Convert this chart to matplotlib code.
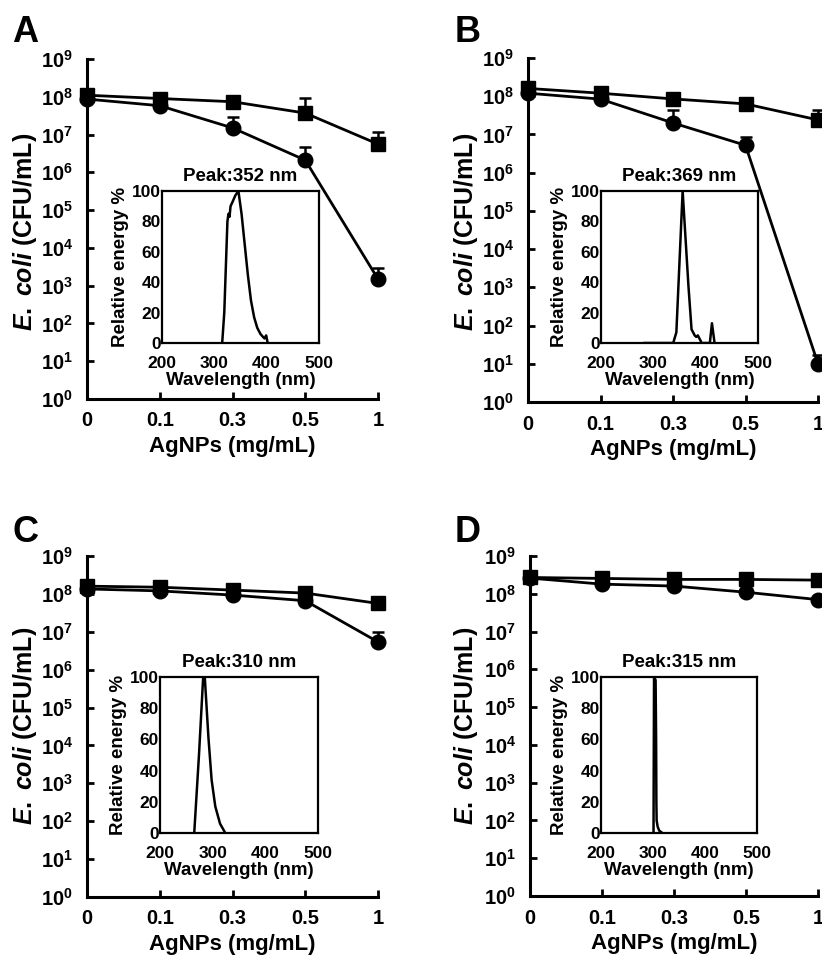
import numpy as np
import matplotlib
matplotlib.use("Agg")
import matplotlib.pyplot as plt

plt.rcParams['font.family'] = ['Liberation Sans', 'DejaVu Sans']
plt.rcParams['font.weight'] = 'bold'
plt.rcParams['axes.labelweight'] = 'bold'
plt.rcParams['axes.titleweight'] = 'bold'
plt.rcParams['mathtext.fontset'] = 'custom'
plt.rcParams['mathtext.rm'] = 'Liberation Sans:bold'
plt.rcParams['mathtext.bf'] = 'Liberation Sans:bold'
plt.rcParams['mathtext.it'] = 'Liberation Sans:italic:bold'

# doses (categorical x axis)
doses = ['0', '0.1', '0.3', '0.5', '1']

# CFU/mL, squares and circles, with upper error bars
sq_A = [1.1e8, 9.0e7, 7.4e7, 3.7e7, 5.6e6]
sq_A_err = [0, 0, 0, 5.7e7, 6.4e6]
ci_A = [8.7e7, 5.8e7, 1.5e7, 2.1e6, 1.5e3]
ci_A_err = [0, 0, 1.4e7, 2.6e6, 1.5e3]

sq_B = [1.6e8, 1.2e8, 8.5e7, 6.3e7, 2.4e7]
sq_B_err = [0, 0, 0, 0, 2.0e7]
ci_B = [1.2e8, 8.4e7, 2.0e7, 5.2e6, 10]
ci_B_err = [0, 0, 2.4e7, 3.5e6, 7]

sq_C = [1.6e8, 1.5e8, 1.26e8, 1.05e8, 5.6e7]
sq_C_err = [0, 0, 0, 0, 0]
ci_C = [1.35e8, 1.2e8, 9.3e7, 6.6e7, 5.4e6]
ci_C_err = [0, 0, 0, 0, 4.6e6]

sq_D = [2.7e8, 2.55e8, 2.4e8, 2.4e8, 2.3e8]
sq_D_err = [0, 0, 0, 0, 0]
ci_D = [2.6e8, 1.8e8, 1.6e8, 1.1e8, 7.0e7]
ci_D_err = [0, 0, 0, 0, 0]

# lamp spectra for the insets
wl_A = [315, 319, 322, 325, 327, 329, 331, 335, 340, 346, 352, 358, 364, 370, 376, 382, 388, 393, 396, 399, 402]
en_A = [0, 20, 50, 80, 85, 83, 90, 93, 97, 100, 85, 65, 45, 28, 17, 10, 6, 4, 3, 5, 0]
wl_B = [283, 338, 344, 356, 367, 373, 379, 382, 385, 391, 392, 408, 412, 417]
en_B = [0, 0, 7, 100, 38, 9, 5, 4, 5, 1, 0, 0, 13, 0]
wl_C = [265, 274, 282, 285, 292, 298, 305, 314, 324]
en_C = [0, 50, 100, 100, 61, 34, 17, 6, 0]
wl_D = [301, 302, 305, 306, 306.5, 307, 309, 312, 318]
en_D = [0, 100, 98, 60, 20, 8, 4, 1.5, 0]

peaks = ['Peak:352 nm', 'Peak:369 nm', 'Peak:310 nm', 'Peak:315 nm']
letters = ['A', 'B', 'C', 'D']
ytick_vals = [10 ** i for i in range(10)]
ytick_labels = [r'$10^{%d}$' % i for i in range(10)]

W, H = 822, 958
fig = plt.figure(figsize=(W / 100, H / 100), dpi=100)

def fr(x0, y0, x1, y1):
    # pixel box (left, top, right, bottom) -> figure fraction rect
    return [x0 / W, 1 - y1 / H, (x1 - x0) / W, (y1 - y0) / H]

main_boxes = [(87, 59, 378, 399), (528, 58, 818, 402), (87, 556, 378, 897), (530, 556, 818, 896)]
inset_boxes = [(162, 191, 319, 343), (601, 191, 758, 343), (160, 677, 318, 833), (601, 677, 757, 833)]
letter_pos = [(12, 33), (455, 33), (12, 533), (455, 533)]
ylab_pos = [(25, 232), (466, 232), (25, 726), (466, 726)]

panels = [
    (sq_A, sq_A_err, ci_A, ci_A_err, wl_A, en_A),
    (sq_B, sq_B_err, ci_B, ci_B_err, wl_B, en_B),
    (sq_C, sq_C_err, ci_C, ci_C_err, wl_C, en_C),
    (sq_D, sq_D_err, ci_D, ci_D_err, wl_D, en_D),
]

xpos = np.arange(len(doses))

for i, (sq, sq_err, ci, ci_err, wl, en) in enumerate(panels):
    ax = fig.add_axes(fr(*main_boxes[i]))
    for vals, errs, mk in [(sq, sq_err, 's'), (ci, ci_err, 'o')]:
        eb = ax.errorbar(xpos, vals, yerr=[np.zeros(len(vals)), errs], fmt='-', marker=mk,
                         color='black', lw=2, ms=10 if mk == 's' else 10.5, capsize=4.5,
                         elinewidth=1.8, capthick=1.8, zorder=3)
        for art in eb.get_children():
            art.set_clip_on(False)
    ax.set_yscale('log')
    ax.set_ylim(1, 1e9)
    ax.set_xlim(0, 4)
    ax.set_yticks(ytick_vals)
    ax.set_yticklabels(ytick_labels)
    ax.minorticks_off()
    ax.set_xticks(xpos)
    ax.set_xticklabels(doses)
    for s in ['top', 'right']:
        ax.spines[s].set_visible(False)
    for s in ['left', 'bottom']:
        ax.spines[s].set_linewidth(2.2)
    ax.tick_params(direction='in', length=5, width=2, labelsize=14.5)
    ax.tick_params(axis='y', pad=10)
    ax.tick_params(axis='x', pad=9)
    ax.set_xlabel('AgNPs (mg/mL)', fontsize=16, labelpad=4)
    fig.text(ylab_pos[i][0] / W, 1 - ylab_pos[i][1] / H, r'$\mathit{E.}$ $\mathit{coli}$ (CFU/mL)',
             rotation=90, ha='center', va='center', fontsize=18)
    fig.text(letter_pos[i][0] / W, 1 - letter_pos[i][1] / H, letters[i],
             ha='left', va='center', fontsize=26)

    # inset spectrum
    ins = fig.add_axes(fr(*inset_boxes[i]))
    ins.plot(wl, en, color='black', lw=1.8)
    ins.set_xlim(200, 500)
    ins.set_ylim(0, 100)
    ins.set_xticks([200, 300, 400, 500])
    ins.set_yticks([0, 20, 40, 60, 80, 100])
    ins.tick_params(length=0, labelsize=12.5)
    ins.tick_params(axis='y', pad=1)
    ins.tick_params(axis='x', pad=9)
    for s in ins.spines.values():
        s.set_linewidth(1.6)
    ins.set_xlabel('Wavelength (nm)', fontsize=13.5, labelpad=1)
    ins.set_ylabel('Relative energy %', fontsize=13.5, labelpad=2)
    ins.set_title(peaks[i], fontsize=13.5, pad=7)

fig.savefig('out.png', dpi=100)
